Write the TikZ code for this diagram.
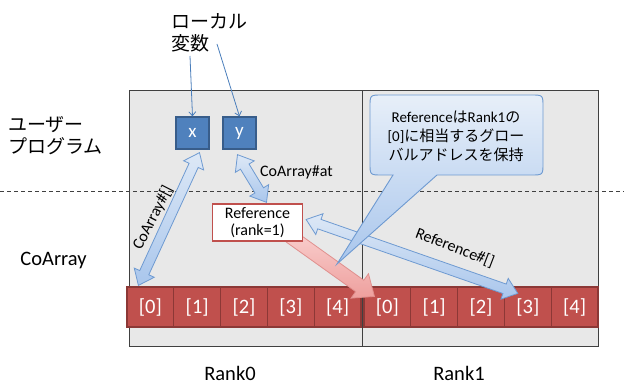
\documentclass[tikz,border=0pt]{standalone}
\usepackage{fontspec}
\setmainfont{Carlito}
\newfontfamily\jp{Noto Sans CJK JP}
\usetikzlibrary{calc,arrows.meta}
\definecolor{boxgray}{HTML}{E8E8E8}
\definecolor{boxedge}{HTML}{404040}
\definecolor{blufill}{HTML}{4F81BD}
\definecolor{bluedge}{HTML}{385D8A}
\definecolor{cellred}{HTML}{C0504D}
\definecolor{celledge}{HTML}{8C3836}
\definecolor{fatlight}{HTML}{DDE8F6}
\definecolor{fatdark}{HTML}{A9C6EC}
\definecolor{fatedge}{HTML}{6E9AD1}
\definecolor{pinklight}{HTML}{F9CFCE}
\definecolor{pinkdark}{HTML}{EE9F9D}
\definecolor{pinkedge}{HTML}{E0908E}
\definecolor{thinblue}{HTML}{4A7EBB}
% double fat arrow: #1 style, #2 A, #3 B, #4 half shaft, #5 half head, #6 head length
\newcommand\fatdbl[6]{%
  \coordinate (faA) at ($(#2)!#6!(#3)$);
  \coordinate (faB) at ($(#3)!#6!(#2)$);
  \path[#1] (#2) -- ($(faA)!#5!90:(#3)$) -- ($(faA)!#4!90:(#3)$)
    -- ($(faB)!#4!-90:(#2)$) -- ($(faB)!#5!-90:(#2)$) -- (#3)
    -- ($(faB)!#5!90:(#2)$) -- ($(faB)!#4!90:(#2)$)
    -- ($(faA)!#4!-90:(#3)$) -- ($(faA)!#5!-90:(#3)$) -- cycle;}
% single fat arrow from #2 (tail) to #3 (tip)
\newcommand\fatsgl[6]{%
  \coordinate (faB) at ($(#3)!#6!(#2)$);
  \path[#1] ($(#2)!#4!90:(#3)$) -- ($(faB)!#4!-90:(#2)$) -- ($(faB)!#5!-90:(#2)$)
    -- (#3) -- ($(faB)!#5!90:(#2)$) -- ($(faB)!#4!90:(#2)$)
    -- ($(#2)!#4!-90:(#3)$) -- cycle;}
\tikzset{
  rankbox/.style={draw=boxedge, fill=boxgray, line width=0.8pt, inner sep=0pt, outer sep=0pt, anchor=north west},
  cell/.style={draw=celledge, fill=cellred, line width=1.2pt, minimum width=46.8pt, minimum height=40pt, inner sep=0pt, text=white, font=\fontsize{20.5}{22}\selectfont},
  varbox/.style={draw=bluedge, fill=blufill, line width=1.3pt, minimum width=33pt, minimum height=32pt, inner sep=0pt, text=white, font=\fontsize{19}{20}\selectfont},
  refbox/.style={draw=cellred, fill=white, line width=1.3pt, minimum width=90pt, minimum height=37pt, inner sep=0pt, align=center, font=\fontsize{16}{17}\selectfont},
  jplabel/.style={inner sep=0pt, align=left, font=\jp\fontsize{19}{22}\selectfont},
  biglabel/.style={inner sep=0pt, font=\fontsize{20.5}{24}\selectfont},
  arrlabel/.style={inner sep=0pt, font=\fontsize{16}{18}\selectfont},
  fatblue/.style={draw=fatedge, line width=0.8pt, top color=fatlight, bottom color=fatdark},
  fatpink/.style={draw=pinkedge, line width=0.8pt, top color=pinklight, bottom color=pinkdark},
  callout/.style={draw=fatedge, line width=0.9pt, top color=fatlight!70!white, bottom color=fatdark},
  thinarrow/.style={draw=thinblue, line width=0.8pt, -{Straight Barb[length=4pt,width=7pt]}},
  divider/.style={draw=boxedge, line width=0.8pt, dash pattern=on 4pt off 3pt}
}
\begin{document}
\begin{tikzpicture}[x=1pt,y=-1pt]
\useasboundingbox (0,0) rectangle (624,385);
\fill[white] (0,0) rectangle (624,385);
% rank boxes
\node[rankbox, minimum width=233pt, minimum height=256pt] (r0) at (129,90) {};
\node[rankbox, minimum width=236pt, minimum height=256pt] (r1) at (362,90) {};
% divider
\coordinate (dl) at (0,191);
\coordinate (dr) at (624,191);
\draw[divider] (dl) -- (dr);
% cells
\foreach \i in {0,...,4}{
  \node[cell] (a\i) at ({127+46.8*(\i+0.5)},307) {[\i]};
  \node[cell] (b\i) at ({364+46.8*(\i+0.5)},307) {[\i]};
}
% variables
\node[varbox] (x) at (192.5,133) {x};
\node[varbox] (y) at (239.5,133) {y};
% labels
\node[jplabel, anchor=west] (lv) at (171,33) {ローカル\\変数};
\node[jplabel, anchor=west] (up) at (8,136) {ユーザー\\プログラム};
\node[biglabel, anchor=base] (ca) at (53.5,265) {CoArray};
\node[biglabel, anchor=base] (rk0) at (230,380.5) {Rank0};
\node[biglabel, anchor=base] (rk1) at (459,380.5) {Rank1};
% thin arrows
\coordinate (lvx) at (190,56);
\coordinate (lvy) at (217,44);
\draw[thinarrow] (lvx) -- (x.north);
\draw[thinarrow] (lvy) -- (y.north);
% reference node position helper
\coordinate (refc) at (257.5,222.5);
% red arrow (under reference box)
\coordinate (rt) at ($(refc)+(33,14)$);
\coordinate (rh) at ($(b0.north west)+(11,10)$);
\fatsgl{fatpink}{rt}{rh}{7pt}{15pt}{18pt}
% reference box
\node[refbox] (ref) at (refc) {Reference\\(rank=1)};
% blue fat arrows
\coordinate (c1a) at ($(x.south)+(7,3)$);
\coordinate (c1b) at ($(a0.north)+(-12,-1)$);
\fatdbl{fatblue}{c1a}{c1b}{5pt}{11pt}{14pt}
\coordinate (c2a) at ($(y.south)+(-2,5)$);
\coordinate (c2b) at ($(ref.north)+(9,-1)$);
\fatdbl{fatblue}{c2a}{c2b}{5pt}{11pt}{14pt}
\coordinate (c3a) at ($(ref.east)+(3,-3)$);
\coordinate (c3b) at ($(b3.north)+(-10,7)$);
\fatdbl{fatblue}{c3a}{c3b}{5pt}{11pt}{14pt}
% arrow labels
\node[arrlabel, rotate=63] (l1) at (153,218) {CoArray\#[]};
\node[arrlabel, anchor=base west] (l2) at (260,177) {CoArray\#at};
\node[arrlabel, rotate=-21] (l3) at (455,248) {Reference\#[]};
% callout
\path[callout] (393,175) -- (382,175) .. controls (370,175) .. (370,163)
  -- (370,107) .. controls (370,95) .. (382,95)
  -- (531,95) .. controls (543,95) .. (543,107)
  -- (543,163) .. controls (543,175) .. (531,175)
  -- (437,175) -- (337,264) -- cycle;
\node[inner sep=0pt, align=center, font=\fontsize{15}{19}\selectfont] (co) at (456,136)
  {Reference{\jp は}Rank1{\jp の}\\{[0]}{\jp に相当するグロー}\\{\jp バルアドレスを保持}};
\end{tikzpicture}
\end{document}
